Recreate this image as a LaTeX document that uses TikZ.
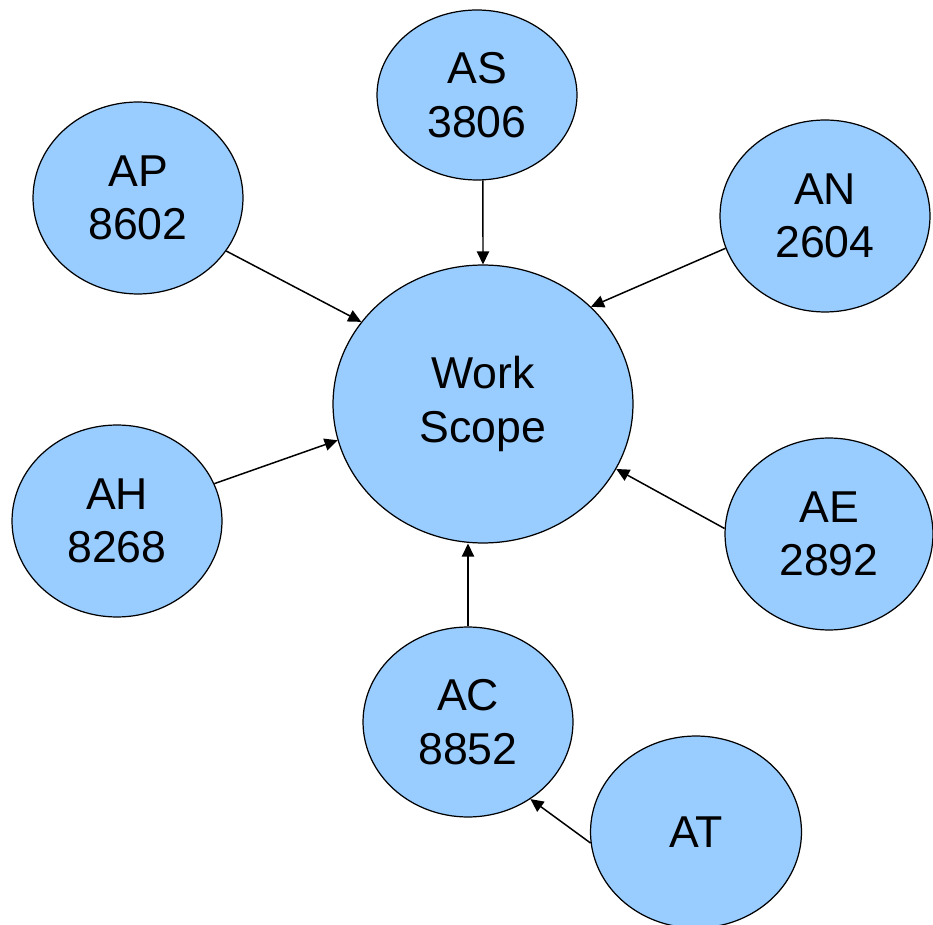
\documentclass[tikz,border=0pt]{standalone}
\usepackage{fontspec}
\setmainfont{Liberation Sans}
\usepackage{tikz}
\definecolor{wsblue}{RGB}{153,204,255}
\usetikzlibrary{arrows.meta,shapes.geometric}

\begin{document}
\begin{tikzpicture}[x=0.02cm, y=-0.02cm,
  unit/.style={ellipse, draw=black, line width=0.7pt, fill=wsblue, inner sep=0pt,
    minimum width=4.2cm, minimum height=3.84cm, align=center,
    font=\fontsize{25.4}{30.5}\selectfont},
  feed/.style={black, line width=0.85pt, -{Triangle[length=7.4pt, width=7pt]}}]
\useasboundingbox (0,0) rectangle (933,925);
% centre and outer units
\node[unit, minimum width=6cm, minimum height=5.56cm] (ws) at (483,404) {Work\\Scope};
\node[unit, minimum width=4cm, minimum height=3.4cm] (as) at (477,95) {AS\\3806};
\node[unit] (ap) at (138,198) {AP\\8602};
\node[unit] (an) at (825,216) {AN\\2604};
\node[unit] (ah) at (117,521) {AH\\8268};
\node[unit, minimum width=4.16cm] (ae) at (829,534) {AE\\2892};
\node[unit, minimum height=3.8cm] (ac) at (468,722) {AC\\8852};
\node[unit, minimum width=4.22cm] (at) at (696,832) {AT};
% arrows
\draw[feed] (as.-86) -- (ws.north);
\draw[feed] (ap.-31) -- (ws.146);
\draw[feed] (an.198) -- (ws.42);
\draw[feed] (ah.21) -- (ws.194);
\draw[feed] (ae.177) -- (ws.-26);
\draw[feed] (ac.north) -- (ws.south -| ac.north);
\draw[feed] (at.186) -- (ac.-51);
\end{tikzpicture}
\end{document}
